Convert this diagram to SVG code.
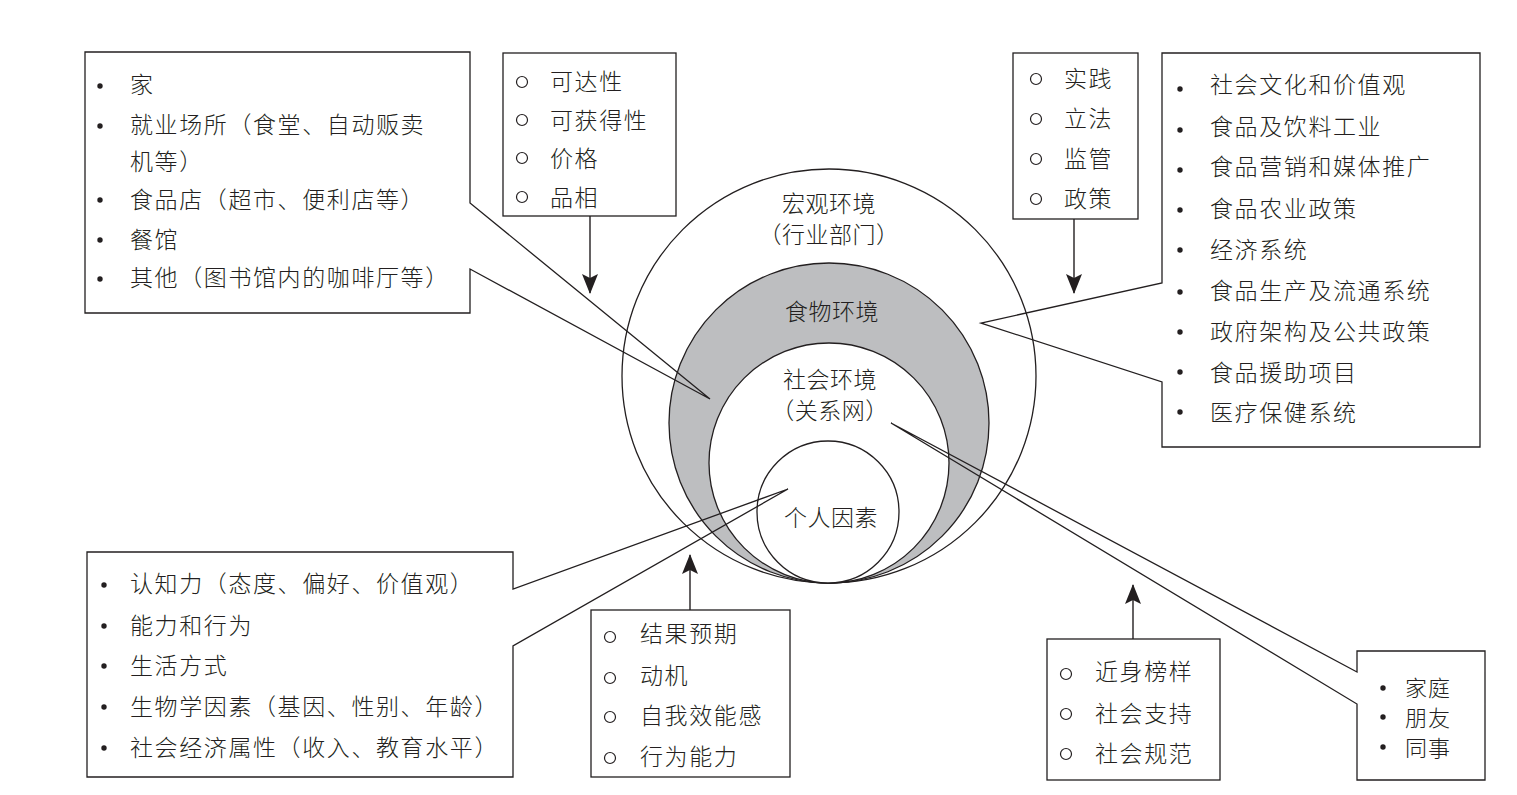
<svg xmlns="http://www.w3.org/2000/svg" width="1517" height="795" viewBox="0 0 1517 795">
<style>
text{font-family:"Noto Sans CJK SC","Liberation Sans",sans-serif;font-size:23px;font-weight:300;fill:#231f20;dominant-baseline:central;letter-spacing:1.6px}
.c{text-anchor:middle;font-size:23px;letter-spacing:0.5px}
.s{font-size:22px;letter-spacing:1px}
.box{fill:none;stroke:#231f20;stroke-width:1.3}
.ring{stroke:#231f20;stroke-width:1.3}
.dot{fill:#231f20}
.oc{fill:none;stroke:#231f20;stroke-width:1.2}
.arr{stroke:#231f20;stroke-width:1.4;fill:none;marker-end:url(#ah)}
</style>
<defs>
<marker id="ah" viewBox="0 0 20 16" refX="19" refY="8" markerWidth="20" markerHeight="16" markerUnits="userSpaceOnUse" orient="auto">
<path d="M0,0 L20,8 L0,16 L4,8 Z" fill="#231f20"/>
</marker>
</defs>
<rect width="1517" height="795" fill="#fff"/>

<g id="circles">
<circle id="macro" class="ring" cx="829" cy="376" r="207" fill="#fff"/>
<circle id="food" class="ring" cx="829" cy="423" r="160" fill="#bdbec0"/>
<circle id="social" class="ring" cx="829" cy="463" r="120" fill="#fff"/>
<circle id="personal" class="ring" cx="828" cy="512" r="71" fill="#fff"/>
<text class="c" x="829" y="202">宏观环境</text>
<text class="c" x="829" y="233">（行业部门）</text>
<text class="c" x="832" y="310">食物环境</text>
<text class="c" x="830" y="378">社会环境</text>
<text class="c" x="830" y="409">（关系网）</text>
<text class="c" x="831" y="516">个人因素</text>
</g>

<g id="settings">
<path class="box" d="M85,52 H470 V203 L710,399 L470,269 V313 H85 Z"/>
<circle class="dot" cx="100" cy="86" r="2.7"/><text x="130" y="83">家</text>
<circle class="dot" cx="100" cy="126" r="2.7"/><text x="130" y="123">就业场所（食堂、自动贩卖</text>
<text x="130" y="160">机等）</text>
<circle class="dot" cx="100" cy="200" r="2.7"/><text x="130" y="198">食品店（超市、便利店等）</text>
<circle class="dot" cx="100" cy="240" r="2.7"/><text x="130" y="238">餐馆</text>
<circle class="dot" cx="100" cy="279" r="2.7"/><text x="130" y="276">其他（图书馆内的咖啡厅等）</text>
</g>

<g id="access">
<rect class="box" x="503" y="53" width="173" height="163"/>
<circle class="oc" cx="522" cy="82" r="5.5"/><text x="550" y="80">可达性</text>
<circle class="oc" cx="522" cy="120" r="5.5"/><text x="550" y="119">可获得性</text>
<circle class="oc" cx="522" cy="158" r="5.5"/><text x="550" y="157">价格</text>
<circle class="oc" cx="522" cy="197" r="5.5"/><text x="550" y="196">品相</text>
</g>

<g id="policy">
<rect class="box" x="1013" y="53" width="125" height="166"/>
<circle class="oc" cx="1036" cy="79" r="5.5"/><text x="1064" y="77">实践</text>
<circle class="oc" cx="1036" cy="119" r="5.5"/><text x="1064" y="117">立法</text>
<circle class="oc" cx="1036" cy="159" r="5.5"/><text x="1064" y="157">监管</text>
<circle class="oc" cx="1036" cy="199" r="5.5"/><text x="1064" y="197">政策</text>
</g>

<g id="macro-list">
<path class="box" d="M1162,53 H1480 V447 H1162 V382 L981,323 L1162,283 Z"/>
<circle class="dot" cx="1180" cy="89" r="2.7"/><text x="1210" y="83">社会文化和价值观</text>
<circle class="dot" cx="1180" cy="130" r="2.7"/><text x="1210" y="125">食品及饮料工业</text>
<circle class="dot" cx="1180" cy="170" r="2.7"/><text x="1210" y="165">食品营销和媒体推广</text>
<circle class="dot" cx="1180" cy="210" r="2.7"/><text x="1210" y="207">食品农业政策</text>
<circle class="dot" cx="1180" cy="250" r="2.7"/><text x="1210" y="248">经济系统</text>
<circle class="dot" cx="1180" cy="292" r="2.7"/><text x="1210" y="289">食品生产及流通系统</text>
<circle class="dot" cx="1180" cy="332" r="2.7"/><text x="1210" y="330">政府架构及公共政策</text>
<circle class="dot" cx="1180" cy="372" r="2.7"/><text x="1210" y="371">食品援助项目</text>
<circle class="dot" cx="1180" cy="412" r="2.7"/><text x="1210" y="411">医疗保健系统</text>
</g>

<g id="individual">
<path class="box" d="M87,552 H513 V589 L788,489 L513,646 V777 H87 Z"/>
<circle class="dot" cx="104" cy="585" r="2.7"/><text x="130" y="582">认知力（态度、偏好、价值观）</text>
<circle class="dot" cx="104" cy="626" r="2.7"/><text x="130" y="624">能力和行为</text>
<circle class="dot" cx="104" cy="666" r="2.7"/><text x="130" y="664">生活方式</text>
<circle class="dot" cx="104" cy="707" r="2.7"/><text x="130" y="705">生物学因素（基因、性别、年龄）</text>
<circle class="dot" cx="104" cy="748" r="2.7"/><text x="130" y="746">社会经济属性（收入、教育水平）</text>
</g>

<g id="psych">
<rect class="box" x="591" y="610" width="199" height="167"/>
<circle class="oc" cx="610" cy="637" r="5.5"/><text x="640" y="632">结果预期</text>
<circle class="oc" cx="610" cy="678" r="5.5"/><text x="640" y="674">动机</text>
<circle class="oc" cx="610" cy="717" r="5.5"/><text x="640" y="714">自我效能感</text>
<circle class="oc" cx="610" cy="758" r="5.5"/><text x="640" y="755">行为能力</text>
</g>

<g id="social-factors">
<rect class="box" x="1047" y="639" width="173" height="141"/>
<circle class="oc" cx="1066" cy="674" r="5.5"/><text x="1095" y="670">近身榜样</text>
<circle class="oc" cx="1066" cy="714" r="5.5"/><text x="1095" y="712">社会支持</text>
<circle class="oc" cx="1066" cy="754" r="5.5"/><text x="1095" y="752">社会规范</text>
</g>

<g id="network">
<path class="box" d="M1357,651 H1485 V780 H1357 V704 L891,423 L1357,672 Z"/>
<circle class="dot" cx="1383" cy="688" r="2.7"/><text class="s" x="1405" y="686">家庭</text>
<circle class="dot" cx="1383" cy="717" r="2.7"/><text class="s" x="1405" y="716">朋友</text>
<circle class="dot" cx="1383" cy="747" r="2.7"/><text class="s" x="1405" y="746">同事</text>
</g>

<g id="connectors">
<line class="arr" x1="590" y1="216" x2="590" y2="293"/>
<line class="arr" x1="1074" y1="219" x2="1074" y2="293"/>
<line class="arr" x1="690" y1="610" x2="690" y2="555"/>
<line class="arr" x1="1133" y1="639" x2="1133" y2="585"/>
</g>
</svg>
